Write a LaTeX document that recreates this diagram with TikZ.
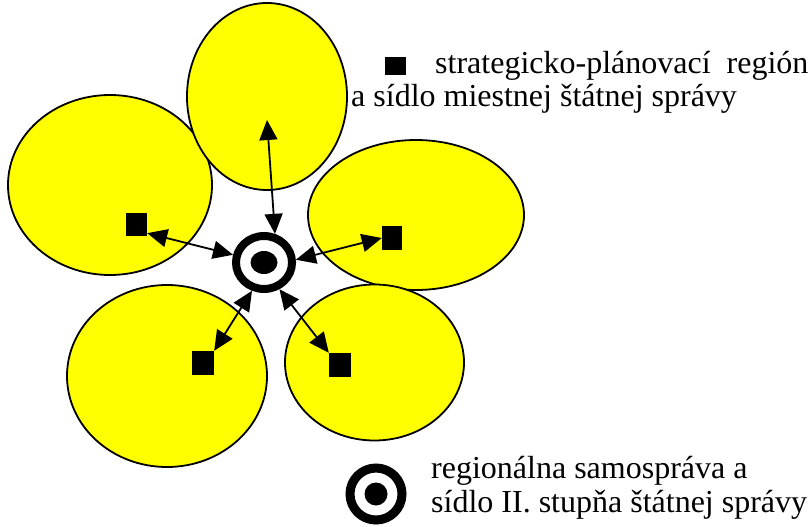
\documentclass[tikz,border=0pt]{standalone}
\usepackage{fontspec}
\setmainfont{Liberation Serif}
\newfontfamily\legendfont{Liberation Serif}
\usetikzlibrary{shapes.geometric,arrows.meta}
\definecolor{petalyellow}{RGB}{255,255,0}
\begin{document}
\begin{tikzpicture}[x=1pt,y=-1pt,
  >={Triangle[length=20pt,width=18pt]},
  petal/.style={ellipse, draw=black, line width=1.8pt, fill=petalyellow, inner sep=0pt},
  seat/.style={rectangle, fill=black, inner sep=0pt, minimum width=21pt, minimum height=23pt},
  hub/.style={ellipse, draw=black, line width=8pt, inner sep=0pt, minimum width=56pt, minimum height=53pt},
  link/.style={line width=1.8pt, <->},
  legend/.style={anchor=base west, inner sep=0pt, font=\legendfont\fontsize{32}{34}\selectfont}
]
\useasboundingbox (0,0) rectangle (811,527);

% five regions
\node[petal, minimum width=204pt, minimum height=180pt] (e2) at (110,185) {};
\node[petal, minimum width=160pt, minimum height=187pt] (e1) at (267,96.5) {};
\node[petal, minimum width=216pt, minimum height=150pt] (e3) at (416,215) {};
\node[petal, minimum width=200pt, minimum height=182pt] (e4) at (167,376) {};
\node[petal, minimum width=179pt, minimum height=156pt] (e5) at (374.5,362.5) {};

% seats of the strategic-planning regions
\node[seat] (s1) at (136.5,224.5) {};
\node[seat, minimum width=20pt, minimum height=24pt] (s2) at (392,238) {};
\node[seat, minimum width=22pt, minimum height=24pt] (s3) at (203,363) {};
\node[seat, minimum width=22pt, minimum height=24pt] (s4) at (340,365) {};
\coordinate (t1) at (267,120);

% regional centre
\node[hub] (hub) at (264,262.5) {};
\fill[black] (hub.center) ellipse [x radius=13.5, y radius=11.5];

% links
\draw[link] (t1) -- (hub.69);
\draw[link] (s1.-39) -- (hub.166);
\draw[link] (s2.west) -- (hub.5);
\draw[link] (s3.north east) -- (hub.-113);
\draw[link] (s4.north west) -- (hub.-60);

% legend: strategic-planning region
\node[seat, minimum width=21pt, minimum height=18pt] (k1) at (395.5,66) {};
\node[legend] (l1) at (435,74) {strategicko-plánovací\ \ región};
\node[legend] (l2) at (351,106) {a sídlo miestnej štátnej správy};

% legend: regional self-government
\node[hub, line width=9pt, minimum width=52pt, minimum height=52pt] (k2) at (376,494) {};
\fill[black] (k2.center) circle [radius=11.5];
\node[legend] (l3) at (431,478) {regionálna samospráva a};
\node[legend] (l4) at (431,512) {sídlo II. stupňa štátnej správy};
\end{tikzpicture}
\end{document}
